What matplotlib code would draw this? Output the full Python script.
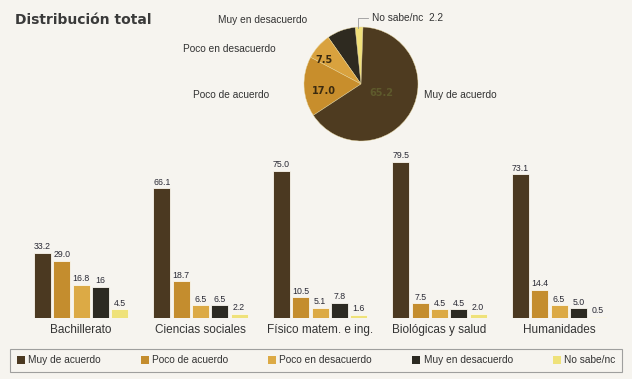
import matplotlib
matplotlib.use("Agg")
import matplotlib.pyplot as plt
import numpy as np
from matplotlib.patches import Patch

categories = ["Bachillerato", "Ciencias sociales", "Físico matem. e ing.", "Biológicas y salud", "Humanidades"]
series_names = ["Muy de acuerdo", "Poco de acuerdo", "Poco en desacuerdo", "Muy en desacuerdo", "No sabe/nc"]
muy_de_acuerdo = [33.2, 66.1, 75.0, 79.5, 73.1]
poco_de_acuerdo = [29.0, 18.7, 10.5, 7.5, 14.4]
poco_en_desacuerdo = [16.8, 6.5, 5.1, 4.5, 6.5]
muy_en_desacuerdo = [16.0, 6.5, 7.8, 4.5, 5.0]
no_sabe = [4.5, 2.2, 1.6, 2.0, 0.5]
value_labels = [
    ["33.2", "29.0", "16.8", "16", "4.5"],
    ["66.1", "18.7", "6.5", "6.5", "2.2"],
    ["75.0", "10.5", "5.1", "7.8", "1.6"],
    ["79.5", "7.5", "4.5", "4.5", "2.0"],
    ["73.1", "14.4", "6.5", "5.0", "0.5"],
]
pie_values = [2.2, 8.1, 7.5, 17.0, 65.2]   # No sabe, Muy en desac., Poco en desac., Poco de ac., Muy de ac.
pie_inner_labels = ["", "", "7.5", "17.0", "65.2"]

bar_colors = ["#4b3921", "#c48d2e", "#dcaa45", "#2c2a22", "#efe27a"]
pie_colors = ["#f0e07a", "#2e2a20", "#d9a23e", "#c88e2c", "#4e3b20"]
bg = "#f6f4ef"
text_c = "#333333"

W, H = 632, 379
fig = plt.figure(figsize=(W / 100, H / 100), dpi=100, facecolor=bg)

# ---- bars ----
left_px, right_px = 15, 620
base_px, top_px = 318, 151
ax = fig.add_axes([left_px / W, 1 - base_px / H, (right_px - left_px) / W, (base_px - top_px) / H])
ax.set_facecolor(bg)
spacing = 119.5
c0 = 81
ax.set_xlim((left_px - c0) / spacing, (right_px - c0) / spacing)
ax.set_ylim(0, 85)
step = 19.3 / spacing
width = 17.0 / spacing
series = [muy_de_acuerdo, poco_de_acuerdo, poco_en_desacuerdo, muy_en_desacuerdo, no_sabe]
x = np.arange(len(categories))
for i, (vals, col) in enumerate(zip(series, bar_colors)):
    pos = x + (i - 2) * step
    ax.bar(pos, vals, width=width, color=col, edgecolor="#fbf8ef", linewidth=0.6)
    for j, (p, v) in enumerate(zip(pos, vals)):
        ax.text(p, v + 0.8, value_labels[j][i], ha="center", va="bottom",
                fontsize=6.3, color="#2a2a35", family="Liberation Sans")
ax.set_xticks(x)
ax.set_xticklabels(categories, fontsize=8.5, color=text_c, family="Liberation Sans")
ax.tick_params(axis="x", length=0, pad=4)
ax.set_yticks([])
for s in ax.spines.values():
    s.set_visible(False)

# ---- pie ----
cx, cy, r = 361, 84, 57
pax = fig.add_axes([(cx - r) / W, 1 - (cy + r) / H, 2 * r / W, 2 * r / H])
wedges, _ = pax.pie(pie_values, colors=pie_colors, startangle=88, counterclock=True,
                    radius=1.0, wedgeprops=dict(edgecolor="#e8d8a0", linewidth=0.3))
pax.set_aspect("auto")
pax.set_xlim(-1.0, 1.0)
pax.set_ylim(-1.0, 1.0)
pax.set_facecolor(bg)
pax.axis("off")

def fx(px):
    return px / W

def fy(py):
    return 1 - py / H

fig.text(fx(324), fy(60), pie_inner_labels[2], fontsize=7, color="#3a2a10", ha="center", va="center", weight="bold")
fig.text(fx(324), fy(91), pie_inner_labels[3], fontsize=7, color="#3a2a10", ha="center", va="center", weight="bold")
fig.text(fx(381), fy(93), pie_inner_labels[4], fontsize=7, color="#5e5a2c", ha="center", va="center", weight="bold")

lab_kw = dict(fontsize=7.3, color=text_c, family="Liberation Sans", va="center")
fig.text(fx(218), fy(20), "Muy en desacuerdo", ha="left", **lab_kw)
fig.text(fx(372), fy(18), "No sabe/nc  2.2", ha="left", **lab_kw)
fig.text(fx(183), fy(49), "Poco en desacuerdo", ha="left", **lab_kw)
fig.text(fx(193), fy(95), "Poco de acuerdo", ha="left", **lab_kw)
fig.text(fx(424), fy(95), "Muy de acuerdo", ha="left", **lab_kw)
fig.add_artist(plt.Line2D([fx(358), fx(358), fx(368)], [fy(28), fy(18), fy(18)],
                          color="#999999", lw=0.6))

# ---- title ----
fig.text(fx(15), fy(20), "Distribución total", fontsize=10, weight="bold",
         color="#3a3a3a", ha="left", va="center", family="DejaVu Sans")

# ---- legend ----
handles = [Patch(facecolor=c, edgecolor="none") for c in bar_colors]
leg = fig.legend(handles, series_names, loc="lower left", ncol=5, mode="expand",
                 bbox_to_anchor=(5 / W, 1 - 377 / H, 622 / W, 25 / H),
                 fontsize=7.3, frameon=True, fancybox=False, edgecolor="#8a8a8a",
                 handlelength=0.8, handleheight=0.8, handletextpad=0.3,
                 borderpad=0.65, columnspacing=0.5, prop={"family": "Liberation Sans", "size": 7.3})
leg.get_frame().set_facecolor(bg)
leg.get_frame().set_linewidth(0.8)
for t in leg.get_texts():
    t.set_color(text_c)

fig.savefig("out.png", dpi=100, facecolor=bg)
